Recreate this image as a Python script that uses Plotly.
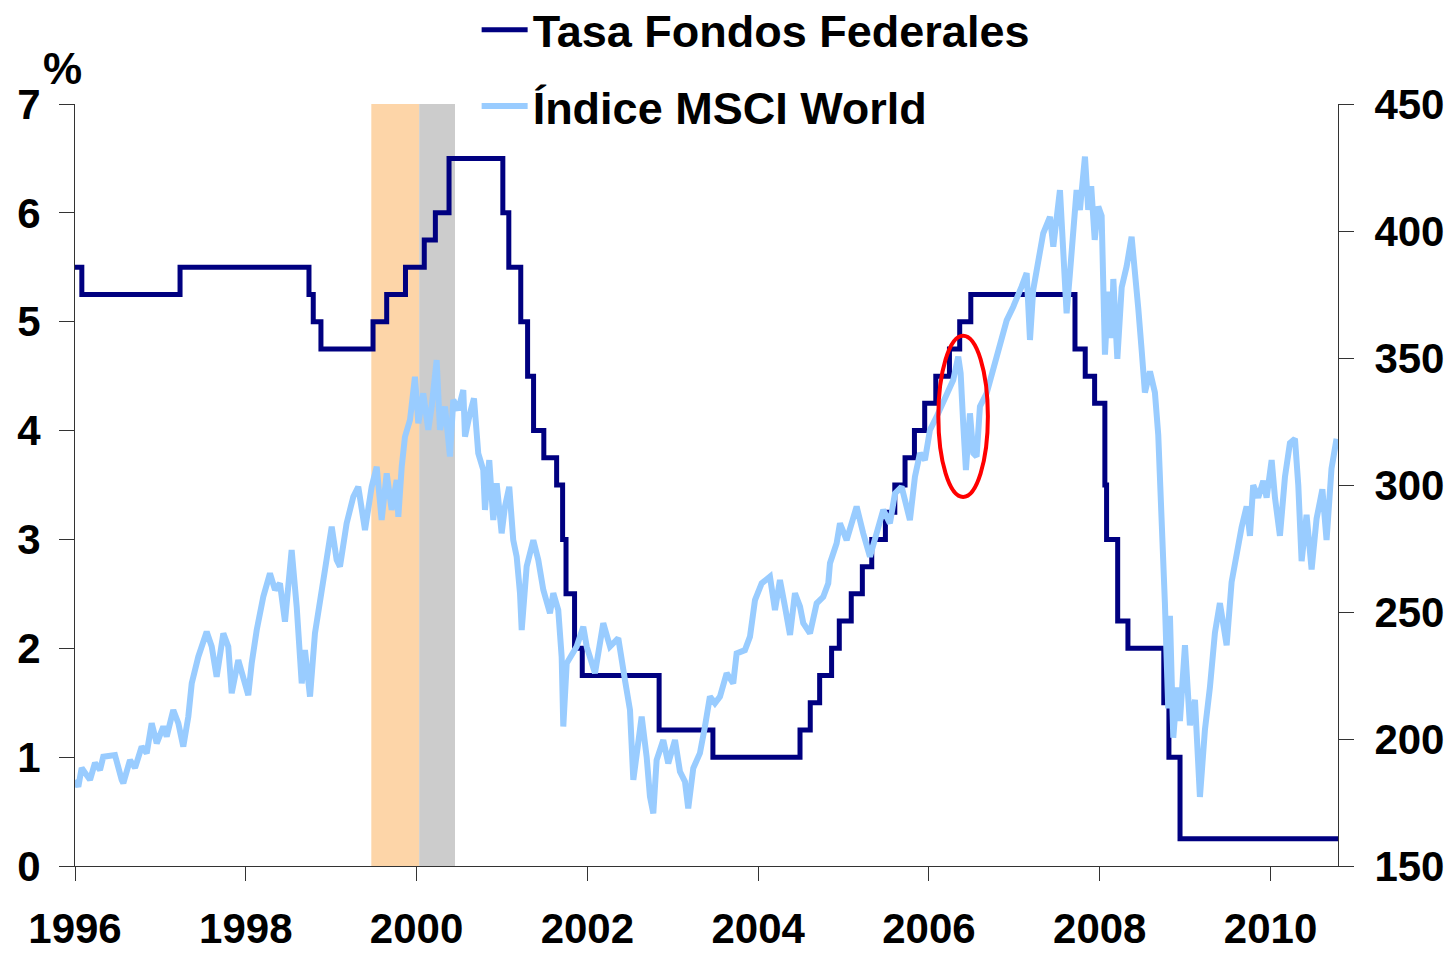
import plotly.graph_objects as go

# Tasa de fondos federales (%), escalones
fed_fecha = [1996.00, 1996.08, 1997.23, 1998.74, 1998.79, 1998.88, 1999.49, 1999.65, 1999.87,
             2000.09, 2000.22, 2000.38, 2001.01, 2001.08, 2001.22, 2001.30, 2001.37, 2001.49,
             2001.64, 2001.71, 2001.75, 2001.85, 2001.94, 2002.84, 2003.47, 2004.49, 2004.61,
             2004.72, 2004.86, 2004.95, 2005.09, 2005.22, 2005.33, 2005.49, 2005.60, 2005.72,
             2005.83, 2005.95, 2006.08, 2006.24, 2006.36, 2006.49, 2007.71, 2007.83, 2007.94,
             2008.06, 2008.08, 2008.21, 2008.33, 2008.75, 2008.81, 2008.94, 2010.79]
fed_tasa = [5.5, 5.25, 5.5, 5.25, 5.0, 4.75, 5.0, 5.25, 5.5,
            5.75, 6.0, 6.5, 6.0, 5.5, 5.0, 4.5, 4.0, 3.75,
            3.5, 3.0, 2.5, 2.0, 1.75, 1.25, 1.0, 1.25, 1.5,
            1.75, 2.0, 2.25, 2.5, 2.75, 3.0, 3.25, 3.5, 3.75,
            4.0, 4.25, 4.5, 4.75, 5.0, 5.25, 4.75, 4.5, 4.25,
            3.5, 3.0, 2.25, 2.0, 1.5, 1.0, 0.25, 0.25]

# Indice MSCI World (eje derecho)
msci_fecha = [1996.000, 1996.039, 1996.078, 1996.176, 1996.234, 1996.293, 1996.331, 1996.468, 1996.547,
              1996.566, 1996.644, 1996.703, 1996.781, 1996.840, 1996.898, 1996.957, 1997.034, 1997.074,
              1997.151, 1997.210, 1997.268, 1997.327, 1997.367, 1997.444, 1997.542, 1997.601, 1997.659,
              1997.737, 1997.795, 1997.835, 1997.912, 1997.971, 1998.029, 1998.069, 1998.128, 1998.205,
              1998.283, 1998.342, 1998.400, 1998.459, 1998.537, 1998.596, 1998.655, 1998.693, 1998.752,
              1998.810, 1998.869, 1998.927, 1999.006, 1999.064, 1999.103, 1999.181, 1999.259, 1999.317,
              1999.396, 1999.474, 1999.533, 1999.591, 1999.650, 1999.708, 1999.767, 1999.786, 1999.826,
              1999.864, 1999.923, 1999.981, 2000.020, 2000.078, 2000.137, 2000.177, 2000.235, 2000.274,
              2000.333, 2000.391, 2000.430, 2000.488, 2000.547, 2000.567, 2000.625, 2000.672, 2000.722,
              2000.781, 2000.801, 2000.851, 2000.898, 2000.938, 2000.996, 2001.035, 2001.085, 2001.132,
              2001.172, 2001.211, 2001.231, 2001.289, 2001.367, 2001.425, 2001.484, 2001.562, 2001.601,
              2001.659, 2001.699, 2001.718, 2001.758, 2001.875, 2001.952, 2001.992, 2002.089, 2002.186,
              2002.265, 2002.362, 2002.440, 2002.499, 2002.538, 2002.596, 2002.636, 2002.694, 2002.733,
              2002.772, 2002.811, 2002.889, 2002.947, 2003.026, 2003.084, 2003.143, 2003.181, 2003.240,
              2003.318, 2003.377, 2003.435, 2003.494, 2003.553, 2003.631, 2003.708, 2003.748, 2003.845,
              2003.904, 2003.963, 2004.041, 2004.138, 2004.197, 2004.255, 2004.314, 2004.373, 2004.431,
              2004.490, 2004.528, 2004.607, 2004.685, 2004.762, 2004.821, 2004.841, 2004.919, 2004.958,
              2005.036, 2005.153, 2005.230, 2005.309, 2005.387, 2005.465, 2005.543, 2005.602, 2005.680,
              2005.777, 2005.836, 2005.895, 2005.953, 2006.012, 2006.090, 2006.148, 2006.207, 2006.284,
              2006.343, 2006.371, 2006.401, 2006.433, 2006.480, 2006.519, 2006.558, 2006.597, 2006.675,
              2006.753, 2006.831, 2006.910, 2006.987, 2007.045, 2007.085, 2007.144, 2007.183, 2007.221,
              2007.280, 2007.338, 2007.417, 2007.456, 2007.534, 2007.573, 2007.612, 2007.651, 2007.729,
              2007.768, 2007.827, 2007.865, 2007.900, 2007.941, 2007.983, 2008.022, 2008.042, 2008.061,
              2008.100, 2008.140, 2008.159, 2008.206, 2008.257, 2008.315, 2008.373, 2008.412, 2008.451,
              2008.491, 2008.529, 2008.588, 2008.646, 2008.685, 2008.725, 2008.763, 2008.802, 2008.822,
              2008.861, 2008.907, 2008.939, 2008.998, 2009.056, 2009.115, 2009.173, 2009.232, 2009.290,
              2009.349, 2009.407, 2009.486, 2009.544, 2009.603, 2009.661, 2009.720, 2009.759, 2009.797,
              2009.856, 2009.915, 2009.954, 2010.013, 2010.052, 2010.110, 2010.169, 2010.227, 2010.286,
              2010.325, 2010.364, 2010.422, 2010.481, 2010.539, 2010.607, 2010.656, 2010.714, 2010.773]
msci_valor = [183.9, 181.2, 188.6, 183.9, 190.6, 187.8, 193.0, 193.7, 183.9,
              182.6, 191.7, 188.6, 197.0, 194.4, 206.2, 198.3, 204.9, 201.0,
              211.4, 206.2, 197.0, 208.8, 221.9, 232.4, 242.2, 236.4, 224.5,
              241.6, 236.4, 218.0, 231.1, 223.2, 217.3, 229.8, 242.9, 256.0,
              265.2, 258.7, 261.3, 246.2, 274.4, 252.1, 221.9, 235.0, 216.7,
              241.6, 256.0, 266.5, 283.6, 270.5, 267.9, 284.9, 295.4, 299.3,
              282.3, 299.3, 307.2, 286.2, 304.6, 290.2, 302.0, 287.5, 307.2,
              319.0, 325.6, 342.6, 324.3, 336.1, 321.7, 330.9, 349.2, 321.7,
              330.9, 311.2, 333.5, 329.5, 337.4, 319.0, 328.2, 334.1, 312.5,
              305.9, 290.2, 309.8, 286.2, 300.7, 281.0, 291.5, 299.3, 278.3,
              271.8, 257.4, 242.9, 267.9, 278.3, 270.5, 258.7, 249.5, 257.4,
              250.8, 232.4, 204.9, 229.8, 236.4, 244.2, 236.4, 225.9, 245.6,
              236.4, 239.7, 223.2, 211.4, 183.9, 199.6, 208.8, 193.0, 177.3,
              170.7, 191.7, 199.6, 190.4, 199.6, 187.2, 183.2, 172.7, 188.5,
              194.4, 204.9, 216.7, 214.1, 216.7, 225.9, 221.9, 233.7, 235.0,
              240.3, 254.7, 261.3, 263.9, 250.8, 262.6, 252.1, 241.0, 257.4,
              252.1, 245.6, 241.6, 253.4, 256.0, 261.3, 269.2, 277.1, 284.9,
              278.3, 291.5, 281.0, 271.8, 281.0, 290.2, 284.9, 296.7, 299.3,
              286.2, 303.3, 312.5, 309.8, 321.7, 326.9, 330.9, 334.8, 341.3,
              350.5, 344.0, 324.3, 305.9, 328.2, 312.5, 311.2, 330.9, 336.1,
              345.3, 355.8, 364.8, 370.2, 374.2, 378.1, 383.4, 357.1, 376.8,
              389.9, 399.1, 405.6, 393.8, 416.1, 391.2, 367.6, 383.4, 416.1,
              408.3, 429.3, 408.3, 417.6, 396.5, 409.6, 406.0, 386.1, 351.3,
              376.1, 357.9, 381.1, 349.7, 377.8, 386.1, 397.7, 386.1, 369.6,
              353.0, 336.4, 344.7, 336.4, 319.8, 291.6, 253.5, 212.0, 248.5,
              200.5, 220.3, 207.1, 236.9, 205.4, 215.4, 177.2, 203.7, 220.3,
              241.9, 253.5, 236.9, 261.8, 273.4, 283.3, 291.6, 280.0, 299.9,
              295.0, 301.6, 295.0, 309.8, 295.0, 280.0, 303.2, 316.5, 318.2,
              299.9, 270.0, 288.3, 266.7, 286.7, 298.3, 278.3, 306.5, 318.2]

anios = [1996, 1998, 2000, 2002, 2004, 2006, 2008, 2010]

fuente = "Arial, 'Liberation Sans', sans-serif"
negro = "#000000"

fig = go.Figure()

fig.add_trace(go.Scatter(x=fed_fecha, y=fed_tasa, mode="lines", line_shape="hv",
                         name="<b>Tasa Fondos Federales</b>", line=dict(color="#000080", width=5),
                         legend="legend"))
fig.add_trace(go.Scatter(x=msci_fecha, y=msci_valor, mode="lines", yaxis="y2",
                         name="<b>Índice MSCI World</b>", line=dict(color="#99CCFF", width=6),
                         legend="legend2"))

# zonas sombreadas
fig.add_shape(type="rect", xref="x", yref="y", x0=1999.47, x1=2000.03, y0=-0.04, y1=7.07,
              fillcolor="#FDD5A8", line_width=0, layer="below")
fig.add_shape(type="rect", xref="x", yref="y", x0=2000.03, x1=2000.45, y0=-0.04, y1=7.07,
              fillcolor="#CCCCCC", line_width=0, layer="below")
# elipse roja
fig.add_shape(type="circle", xref="x", yref="y", x0=2006.11, x1=2006.69, y0=3.39, y1=4.87,
              line=dict(color="#FF0000", width=4))

fig.add_annotation(text="<b>%</b>", xref="paper", yref="paper", x=-0.01, y=1.046,
                   showarrow=False, font=dict(size=44, color=negro, family=fuente),
                   xanchor="center", yanchor="middle")

eje_font = dict(size=42, color=negro, family=fuente)

# la pagina deja 8 px de margen en el body
fig.update_layout(
    width=1453, height=954,
    margin=dict(l=67, r=123, t=96, b=96, autoexpand=False),
    plot_bgcolor="white", paper_bgcolor="white",
    font=dict(family=fuente, color=negro),
    xaxis=dict(range=[1996, 2010.79], tickvals=anios, ticktext=["<b>%d</b>" % a for a in anios],
               showgrid=False, zeroline=False, showline=True, linecolor="#333333", linewidth=1,
               ticks="outside", ticklen=14, tickcolor="#333333", tickfont=eje_font,
               ticklabelstandoff=12, automargin=False),
    yaxis=dict(range=[0, 7], tickvals=list(range(8)), ticktext=["<b>%d</b>" % v for v in range(8)],
               showgrid=False, zeroline=False, showline=True, linecolor="#333333", linewidth=1,
               ticks="outside", ticklen=15, tickcolor="#333333", tickfont=eje_font,
               ticklabelstandoff=10, automargin=False),
    yaxis2=dict(range=[150, 450], tickvals=list(range(150, 451, 50)),
                ticktext=["<b>%d</b>" % v for v in range(150, 451, 50)],
                overlaying="y", side="right", anchor="x",
                showgrid=False, zeroline=False, showline=True, linecolor="#333333", linewidth=1,
                ticks="outside", ticklen=15, tickcolor="#333333", tickfont=eje_font,
                ticklabelstandoff=12, automargin=False),
    yaxis3=dict(range=[150, 450], tickvals=list(range(150, 451, 50)), overlaying="y",
                side="right", anchor="x", showgrid=False, zeroline=False, showline=False,
                ticks="inside", ticklen=15, tickcolor="#333333", showticklabels=False),
    legend=dict(x=0.318, y=1.097, xanchor="left", yanchor="middle", bgcolor="rgba(0,0,0,0)",
                itemwidth=46, font=dict(size=45, color=negro, family=fuente)),
    legend2=dict(x=0.318, y=0.997, xanchor="left", yanchor="middle", bgcolor="rgba(0,0,0,0)",
                 itemwidth=46, font=dict(size=45, color=negro, family=fuente)),
    showlegend=True,
)

fig.write_html("out.html")
